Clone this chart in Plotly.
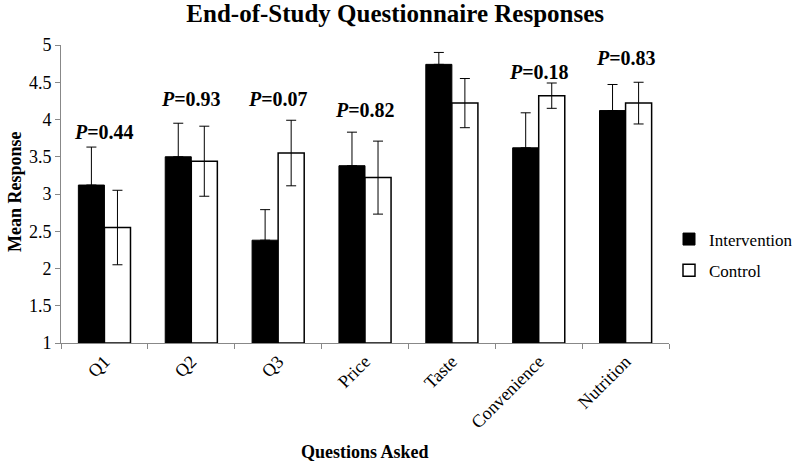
import plotly.graph_objects as go

categories = ["Q1", "Q2", "Q3", "Price", "Taste", "Convenience", "Nutrition"]
intervention = [3.12, 3.50, 2.38, 3.38, 4.74, 3.62, 4.12]
intervention_err = [0.51, 0.45, 0.41, 0.45, 0.16, 0.47, 0.35]
control = [2.55, 3.44, 3.55, 3.22, 4.22, 4.32, 4.22]
control_err = [0.50, 0.47, 0.44, 0.49, 0.33, 0.17, 0.28]
p_values = ["0.44", "0.93", "0.07", "0.82", "0.17", "0.18", "0.83"]
p_label_y = [3.83, 4.27, 4.27, 4.13, 5.03, 4.64, 4.83]

FONT = "Liberation Serif"

fig = go.Figure()
fig.add_trace(go.Bar(
    x=categories, y=[v - 1 for v in intervention], base=1, name="Intervention",
    legendgroup="a",
    marker=dict(color="black", line=dict(color="black", width=1)),
    error_y=dict(type="data", array=intervention_err, color="black", thickness=1, width=5,
                 symmetric=False, arrayminus=[0]*len(categories)),
))
fig.add_trace(go.Bar(
    x=categories, y=[v - 1 for v in control], base=1, name="Control",
    legendgroup="b",
    marker=dict(color="white", line=dict(color="black", width=1.5)),
    error_y=dict(type="data", array=control_err, color="black", thickness=1, width=5),
))

for c, p, yy in zip(categories, p_values, p_label_y):
    fig.add_annotation(x=c, y=yy, text=f"<b><i>P</i>=" + p + "</b>", showarrow=False,
                       font=dict(family=FONT, size=20, color="black"), yanchor="middle")

# axis titles
fig.add_annotation(xref="paper", yref="paper", x=(365 - 61) / 608, y=(343 - 452) / 298,
                   text="<b>Questions Asked</b>", showarrow=False, xanchor="center", yanchor="middle",
                   font=dict(family=FONT, size=18, color="black"))
fig.add_annotation(xref="paper", yref="paper", x=(15 - 61) / 608, y=(343 - 192) / 298,
                   text="<b>Mean Response</b>", showarrow=False, textangle=-90,
                   xanchor="center", yanchor="middle",
                   font=dict(family=FONT, size=18, color="black"))

fig.update_layout(
    width=800, height=461,
    margin=dict(l=61, r=131, t=45, b=118),
    paper_bgcolor="white", plot_bgcolor="white",
    barmode="group", bargap=0.4, bargroupgap=0,
    title=dict(text="<b>End-of-Study Questionnaire Responses</b>", x=0.494, xanchor="center",
               y=0.972, yanchor="middle", font=dict(family=FONT, size=25, color="black")),
    font=dict(family=FONT, size=18, color="black"),
    showlegend=True,
    legend=dict(xref="container", yref="container", x=0.9975, y=1 - 255 / 461,
                xanchor="right", yanchor="middle", bgcolor="rgba(0,0,0,0)",
                font=dict(family=FONT, size=17, color="black"), itemwidth=30, tracegroupgap=6,
                traceorder="grouped"),
    xaxis=dict(showline=True, linecolor="#888888", linewidth=1, ticks="outside", tickson="boundaries",
               ticklen=5, tickcolor="#888888", tickangle=-45, automargin=False,
               tickfont=dict(family=FONT, size=18, color="black")),
    yaxis=dict(range=[1, 5], dtick=0.5, showline=True, linecolor="#888888", linewidth=1,
               ticks="outside", ticklen=5, tickcolor="#888888", showgrid=False, zeroline=False,
               automargin=False,
               tickfont=dict(family=FONT, size=18, color="black")),
)

fig.write_html("out.html", config={"displayModeBar": False},
               post_script="document.body.style.margin='0';")
